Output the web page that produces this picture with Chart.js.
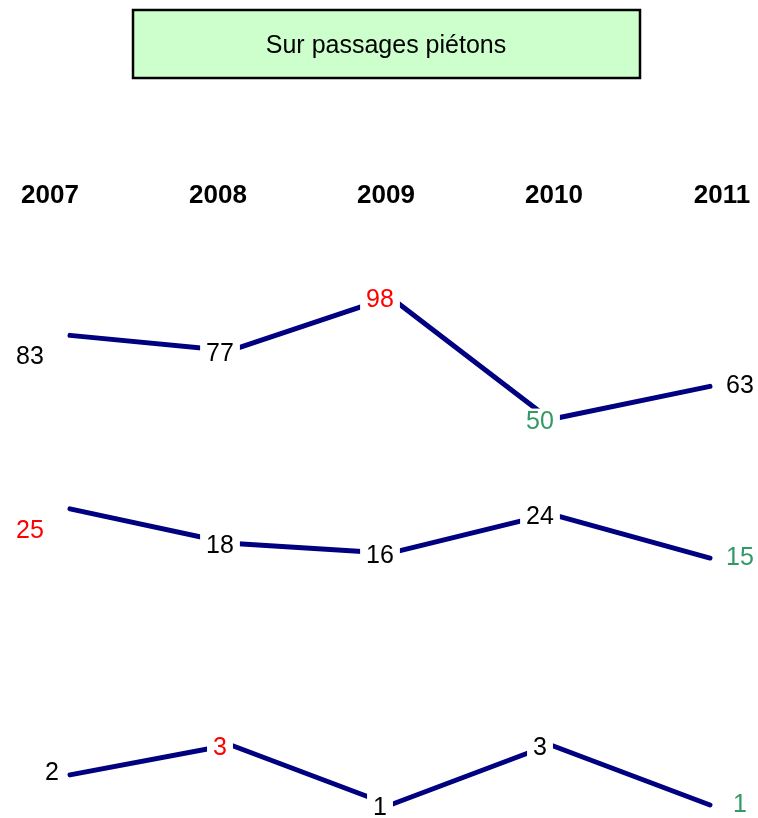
<!DOCTYPE html>
<html>
<head>
<meta charset="utf-8">
<script src="https://cdn.jsdelivr.net/npm/chart.js@4.4.0/dist/chart.umd.min.js"></script>
<style>
  html, body { margin: 0; padding: 0; background: #fff; }
  #wrap { width: 758px; height: 818px; }
</style>
</head>
<body>
<div id="wrap"><canvas id="chart"></canvas></div>
<script>
// annees (axe du haut)
const annees = ["2007", "2008", "2009", "2010", "2011"];
// trois series, chacune dans sa propre bande
const serieHaut = [83, 77, 98, 50, 63];
const serieMilieu = [25, 18, 16, 24, 15];
const serieBas = [2, 3, 1, 3, 1];

const titre = "Sur passages piétons";

// zone de trace (px) : sert a placer chaque bande
const HAUT = 217, BAS = 810;
function bande(valeurs, pMax, pMin) {
    const vMax = Math.max(...valeurs), vMin = Math.min(...valeurs);
    const h = BAS - HAUT;
    const r = (vMax - vMin) * h / (pMin - pMax);
    const min = vMin - (BAS - pMin) / h * r;
    return { min: min, max: min + r };
}

function points(valeurs) {
    return valeurs.map((v, i) => ({ x: i, y: v }));
}

const police = '"Liberation Sans", Arial, sans-serif';

// cadre vert du titre
const cadreTitre = {
    id: 'cadreTitre',
    beforeDraw(chart) {
        const ctx = chart.ctx;
        ctx.save();
        ctx.fillStyle = '#fff';
        ctx.fillRect(0, 0, chart.width, chart.height);
        ctx.fillStyle = '#ccffcc';
        ctx.fillRect(133, 10, 507, 68);
        ctx.lineWidth = 2.5;
        ctx.strokeStyle = '#000';
        ctx.strokeRect(133, 10, 507, 68);
        ctx.restore();
    }
};

// valeurs ecrites sur les points (rouge = max, vert = min)
const etiquettes = {
    id: 'etiquettes',
    afterDatasetsDraw(chart) {
        const ctx = chart.ctx;
        ctx.save();
        ctx.font = '25px ' + police;
        ctx.textAlign = 'center';
        ctx.textBaseline = 'middle';
        chart.data.datasets.forEach((ds, d) => {
            const meta = chart.getDatasetMeta(d);
            const vals = ds.data.map(p => p.y);
            const iMax = vals.indexOf(Math.max(...vals));
            const iMin = vals.lastIndexOf(Math.min(...vals));
            const n = vals.length - 1;
            meta.data.forEach((pt, i) => {
                const txt = String(vals[i]);
                let x = pt.x, y = pt.y;
                if (i === 0) {
                    // a gauche : sous le debut si la ligne descend
                    if (vals[1] < vals[0]) { x -= 40; y += 22; }
                    else { x -= 18; y -= 2; }
                } else if (i === n) {
                    x += 30;
                } else {
                    x -= 10; y += 3;
                    const w = ctx.measureText(txt).width + 12;
                    ctx.fillStyle = '#fff';
                    ctx.fillRect(x - w / 2, y - 14, w, 28);
                }
                ctx.fillStyle = i === iMax ? '#ff0000' : (i === iMin ? '#339966' : '#000');
                ctx.fillText(txt, x, y);
            });
        });
        ctx.restore();
    }
};

const ligne = {
    borderColor: '#000080',
    borderWidth: 5,
    borderCapStyle: 'round',
    borderJoinStyle: 'round',
    pointRadius: 0,
    tension: 0,
    clip: false,
    xAxisID: 'xl'
};

const config = {
    type: 'line',
    data: {
        labels: annees,
        datasets: [
            { ...ligne, label: 'haut', data: points(serieHaut), yAxisID: 'y1' },
            { ...ligne, label: 'milieu', data: points(serieMilieu), yAxisID: 'y2' },
            { ...ligne, label: 'bas', data: points(serieBas), yAxisID: 'y3' }
        ]
    },
    options: {
        responsive: true,
        maintainAspectRatio: false,
        animation: false,
        layout: { padding: { left: 50, right: 36, top: 0, bottom: 8 } },
        plugins: {
            legend: { display: false },
            tooltip: { enabled: false },
            title: {
                display: true,
                text: titre,
                color: '#000',
                font: { family: police, size: 25, weight: 'normal' },
                padding: { top: 31, bottom: 116.6 }
            }
        },
        scales: {
            x: {
                type: 'category',
                position: 'top',
                offset: false,
                grid: { display: false, drawTicks: false },
                border: { display: false },
                ticks: {
                    color: '#000',
                    padding: 3,
                    maxRotation: 0,
                    autoSkip: false,
                    font: { family: police, size: 26, weight: 'bold' }
                }
            },
            xl: { type: 'linear', display: false, min: -0.125, max: 4.075 },
            y1: { type: 'linear', display: false, ...bande(serieHaut, 299, 421) },
            y2: { type: 'linear', display: false, ...bande(serieMilieu, 510, 559) },
            y3: { type: 'linear', display: false, ...bande(serieBas, 745, 805) }
        }
    },
    plugins: [cadreTitre, etiquettes]
};

new Chart(document.getElementById('chart'), config);
</script>
</body>
</html>
